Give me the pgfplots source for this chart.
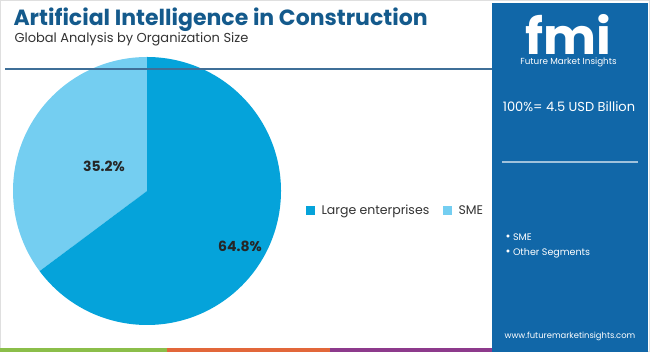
\documentclass[border=0pt]{standalone}
\usepackage{pgfplots}
\pgfplotsset{compat=1.18}
\usepackage{pgfplotstable}
\usepackage{fontspec}
\setmainfont{Poppins}
\definecolor{largec}{HTML}{05A3DA}
\definecolor{smec}{HTML}{74CEF1}
\definecolor{panel}{HTML}{1167A8}
\definecolor{titlec}{HTML}{145A8C}
\definecolor{rulec}{HTML}{3F6F98}
\definecolor{gr}{HTML}{8BBE4A}
\definecolor{org}{HTML}{E2673A}
\definecolor{pur}{HTML}{8D3A8C}
\pgfplotstableread{
segment value
Large 64.8
SME 35.2
}\piedata
\begin{document}
\begin{tikzpicture}
\begin{axis}[
  width=650pt, height=352pt, scale only axis,
  xmin=0, xmax=650, ymin=0, ymax=352,
  axis lines=none, ticks=none, clip=false,
]
\pgfplotstablegetelem{0}{value}\of\piedata \let\vLarge\pgfplotsretval
\pgfplotstablegetelem{1}{value}\of\piedata \let\vSME\pgfplotsretval
\pgfmathsetmacro{\aEnd}{90+3.6*\vSME}
% frame
\draw[gray!25, line width=1pt] (axis cs:0.5,0.5) rectangle (axis cs:649.5,351.5);
% pie
\fill[smec] (axis cs:147,161) -- ++(90:134pt) arc[start angle=90, end angle=\aEnd, radius=134pt] -- cycle;
\fill[largec] (axis cs:147,161) -- ++(\aEnd:134pt) arc[start angle=\aEnd, end angle=450, radius=134pt] -- cycle;
\node[font=\bfseries\fontsize{14}{14}\selectfont, text=black!85] at (axis cs:104,186) {35.2\%};
\node[font=\bfseries\fontsize{14}{14}\selectfont, text=black!85] at (axis cs:240,106) {64.8\%};
% title
\node[anchor=base west, font=\bfseries\fontsize{22}{22}\selectfont, text=titlec] at (axis cs:10,326) {Artificial Intelligence in Construction};
\node[anchor=base west, font=\fontsize{13}{13}\selectfont, text=black!80] at (axis cs:11,309) {Global Analysis by Organization Size};
\draw[rulec, line width=1.2pt] (axis cs:5,283) -- (axis cs:492,283);
% legend
\fill[largec] (axis cs:306,137) rectangle (axis cs:315,146);
\node[anchor=base west, font=\fontsize{12.5}{12.5}\selectfont, text=black!80] at (axis cs:318,137) {Large enterprises};
\fill[smec] (axis cs:443,137) rectangle (axis cs:452,146);
\node[anchor=base west, font=\fontsize{12.5}{12.5}\selectfont, text=black!80] at (axis cs:455,137) {SME};
% bottom strip
\fill[gr] (axis cs:0,0) rectangle (axis cs:167,3.5);
\fill[org] (axis cs:167,0) rectangle (axis cs:330,3.5);
\fill[pur] (axis cs:330,0) rectangle (axis cs:494,3.5);
% panel
\fill[panel] (axis cs:492,0) rectangle (axis cs:648,349);
\node[anchor=south, inner sep=0pt, align=center, text=white] at (axis cs:568.5,285) {{\bfseries\fontsize{50}{42}\selectfont fmi}\\[-2pt]{\fontsize{8.8}{10}\selectfont Future Market Insights}};
\node[anchor=base, font=\fontsize{13}{13}\selectfont, text=white] at (axis cs:569,240) {100\%= 4.5 USD Billion};
\draw[white!60!panel, line width=1.2pt] (axis cs:502,190) -- (axis cs:638,190);
\node[anchor=base west, font=\fontsize{9.5}{9.5}\selectfont, text=white] at (axis cs:502,111) {{\large\textbullet}\ SME};
\node[anchor=base west, font=\fontsize{9.5}{9.5}\selectfont, text=white] at (axis cs:502,96) {{\large\textbullet}\ Other Segments};
\node[anchor=base, font=\fontsize{8.4}{8.4}\selectfont, text=white] at (axis cs:570,13) {www.futuremarketinsights.com};
\end{axis}
\end{tikzpicture}
\end{document}
